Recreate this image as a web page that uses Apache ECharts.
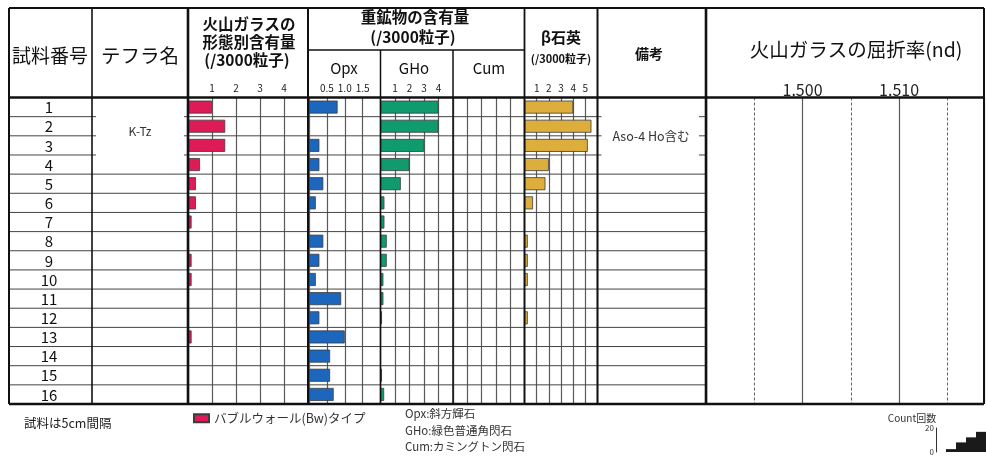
<!DOCTYPE html>
<html>
<head>
<meta charset="utf-8">
<script src="https://cdn.jsdelivr.net/npm/echarts@6/dist/echarts.min.js"></script>
<style>
  html, body { margin: 0; padding: 0; background: #fff; }
  #chart { width: 986px; height: 456px; }
</style>
</head>
<body>
<div id="chart"></div>
<script>
// Sample numbers (5 cm spacing), top to bottom
const samples = ['1','2','3','4','5','6','7','8','9','10','11','12','13','14','15','16'];

// Volcanic glass, bubble-wall type (/3000 grains)
const glassBw = [1.0, 1.55, 1.55, 0.5, 0.33, 0.33, 0.15, 0, 0.15, 0.15, 0, 0, 0.15, 0, 0, 0];
// Heavy minerals (/3000 grains)
const opx = [0.8, 0, 0.29, 0.29, 0.4, 0.19, 0, 0.4, 0.29, 0.19, 0.9, 0.29, 1.0, 0.59, 0.59, 0.69];
const gho = [4.0, 4.0, 3.0, 2.0, 1.4, 0.27, 0.27, 0.43, 0.43, 0.2, 0.2, 0.1, 0, 0, 0.1, 0.25];
const cum = [0, 0, 0, 0, 0, 0, 0, 0, 0, 0, 0, 0, 0, 0, 0, 0];
// Beta quartz (/3000 grains)
const betaQuartz = [4.0, 5.5, 5.2, 2.0, 1.72, 0.7, 0, 0.27, 0.27, 0.27, 0, 0.27, 0, 0, 0, 0];

// Tick labels printed above each panel
const glassTicks = ['1', '2', '3', '4'];
const opxTicks = ['0.5', '1.0', '1.5'];
const ghoTicks = ['1', '2', '3', '4'];
const betaTicks = ['1', '2', '3', '4', '5'];
const ndTicks = ['1.500', '1.510'];

// Small "Count" key in the lower right corner
const countBins = ['0', '1', '2', '3', '4'];
const countValues = [null, 2.4, 8, 12.2, 16.8];
const countTicks = ['0', '20'];

const FONT = '"Noto Sans CJK JP", "Noto Sans", sans-serif';
const TOP = 97.5, BOTTOM = 404;          // body of the table
const rowH = (BOTTOM - TOP) / samples.length;

const COLORS = { glass: '#DC1B57', opx: '#1C66BD', gho: '#0F9B6E', beta: '#DDAE3C' };

const chart = echarts.init(document.getElementById('chart'), null, { renderer: 'canvas' });

function grid(left, right) {
  return { left: left, top: TOP, width: right - left, height: BOTTOM - TOP, containLabel: false };
}

function valueAxis(gridIndex, max, interval, ticks, digits) {
  return {
    type: 'value', gridIndex: gridIndex, min: 0, max: max, interval: interval, position: 'top',
    axisLine: { show: false }, axisTick: { show: false },
    splitLine: { show: true, lineStyle: { color: '#5a5a5a', width: 1.2 } },
    axisLabel: {
      show: ticks.length > 0, fontSize: 10, color: '#222', margin: 4, fontFamily: FONT,
      showMinLabel: false, showMaxLabel: false,
      formatter: function (v) { const s = v.toFixed(digits); return ticks.indexOf(s) >= 0 ? s : ''; }
    }
  };
}

function rowAxis(gridIndex) {
  return {
    type: 'category', gridIndex: gridIndex, data: samples, inverse: true,
    axisLine: { show: false }, axisTick: { show: false }, axisLabel: { show: false },
    splitLine: { show: false }
  };
}

function nz(arr) { return arr.map(function (v) { return v > 0 ? v : '-'; }); }

function barSeries(name, idx, data, color) {
  return {
    name: name, type: 'bar', xAxisIndex: idx, yAxisIndex: idx, data: nz(data),
    barWidth: 13, silent: true, animation: false,
    itemStyle: { color: color, borderColor: '#3c3c3c', borderWidth: 0.8 }
  };
}

// ---- table frame -----------------------------------------------------------
const g = [];
function line(x1, y1, x2, y2, w, color) {
  g.push({ type: 'line', z: 100, silent: true,
    shape: { x1: x1, y1: y1, x2: x2, y2: y2 },
    style: { stroke: color || '#111', lineWidth: w } });
}
function text(x, y, str, size, opts) {
  opts = opts || {};
  g.push({ type: 'text', z: 101, silent: true, x: x, y: y,
    style: { text: str, fontSize: size, fontFamily: FONT, fill: opts.color || '#111',
      fontWeight: opts.weight || 'normal', align: opts.align || 'center', verticalAlign: 'middle' } });
}

// column boundaries
const X = { left: 9, num: 92, tephra: 188, glass: 308, opx: 380.5, gho: 453, cum: 524.5, beta: 597.5, note: 706, right: 984 };

// row separators (rows 1-4 are merged in the tephra and remarks columns)
for (let i = 1; i < samples.length; i++) {
  const y = TOP + i * rowH;
  line(X.left, y, X.num, y, 1, '#444');
  line(X.tephra, y, X.beta, y, 1, '#444');
  if (i > 3) {
    line(X.num, y, X.tephra, y, 1, '#444');
    line(X.beta, y, X.note, y, 1, '#444');
  } else {
    line(X.num, y, X.num + 4, y, 1, '#444');
    line(X.tephra - 4, y, X.tephra, y, 1, '#444');
    line(X.beta, y, X.beta + 4, y, 1, '#444');
    line(X.note - 7, y, X.note, y, 1, '#444');
  }
}

// vertical rules
line(X.left, 8, X.left, BOTTOM, 2);
line(X.num, 8, X.num, BOTTOM, 1.6);
line(X.tephra, 8, X.tephra, BOTTOM, 2.6);
line(X.glass, 8, X.glass, BOTTOM, 2);
line(X.opx, 50, X.opx, BOTTOM, 1.5);
line(X.gho, 50, X.gho, BOTTOM, 1.5);
line(X.cum, 8, X.cum, BOTTOM, 1.8);
line(X.beta, 8, X.beta, BOTTOM, 2);
line(X.note, 8, X.note, BOTTOM, 2.6);
line(X.right, 8, X.right, BOTTOM, 2);

// horizontal rules
line(X.left, 8, X.right, 8, 2);
line(X.glass, 50, X.cum, 50, 1.3);
line(X.left, TOP, X.right, TOP, 2.5);
line(X.left, BOTTOM, X.right, BOTTOM, 2.5);

// header texts
text(50, 56, '試料番号', 19);
text(140, 56, 'テフラ名', 19.5);
text(249, 24, '火山ガラスの', 15.5, { weight: 'bold' });
text(249, 42, '形態別含有量', 15.5, { weight: 'bold' });
text(247, 60, '(/3000粒子)', 15.5, { weight: 'bold' });
text(415, 17, '重鉱物の含有量', 15.5, { weight: 'bold' });
text(413, 37, '(/3000粒子)', 15.5, { weight: 'bold' });
text(344, 68, 'Opx', 15);
text(414, 68, 'GHo', 15);
text(489, 68, 'Cum', 15);
text(561, 37, 'β石英', 15, { weight: 'bold' });
text(561, 59, '(/3000粒子)', 11, { weight: 'bold' });
text(649, 54, '備考', 14, { weight: 'bold' });
text(856, 50, '火山ガラスの屈折率(nd)', 19.5);

// body texts
samples.forEach(function (s, i) { text(49, TOP + (i + 0.5) * rowH + 0.5, s, 15); });
text(140, 131, 'K-Tz', 12, { color: '#333' });
text(651, 136.5, 'Aso-4 Ho含む', 12.5, { color: '#333' });

// notes under the table
text(24, 423, '試料は5cm間隔', 12.5, { align: 'left', color: '#222' });
text(405, 414, 'Opx:斜方輝石', 11.5, { align: 'left', color: '#333' });
text(405, 431, 'GHo:緑色普通角閃石', 11.5, { align: 'left', color: '#333' });
text(405, 447, 'Cum:カミングトン閃石', 11.5, { align: 'left', color: '#333' });
text(912, 418, 'Count回数', 10, { color: '#333' });

// ---- chart option -----------------------------------------------------------
const ndMin = 1.49, ndMax = 1.5188;

const option = {
  animation: false,
  backgroundColor: '#fff',
  textStyle: { fontFamily: FONT },
  legend: {
    left: 188, top: 407, itemWidth: 15, itemHeight: 8, itemGap: 10,
    icon: 'rect', selectedMode: false,
    data: ['バブルウォール(Bw)タイプ'],
    textStyle: { fontSize: 12.5, color: '#333', fontFamily: FONT, padding: [0, 0, 0, 0] }
  },
  grid: [
    grid(X.tephra, X.glass),       // 0 glass
    grid(X.glass + 1, X.opx),      // 1 opx
    grid(X.opx, X.gho),            // 2 gho
    grid(X.gho, X.cum),            // 3 cum
    grid(X.cum, X.beta),           // 4 beta quartz
    grid(X.note, X.right),         // 5 refractive index
    { left: 936, top: 428, width: 50, height: 25 }  // 6 count key
  ],
  xAxis: [
    valueAxis(0, 5, 1, glassTicks, 0),
    valueAxis(1, 2, 0.5, opxTicks, 1),
    valueAxis(2, 5, 1, ghoTicks, 0),
    valueAxis(3, 5, 1, [], 0),
    valueAxis(4, 6, 1, betaTicks, 0),
    { // refractive index, 0.005 steps (dashed)
      type: 'value', gridIndex: 5, min: ndMin, max: ndMax, interval: 0.005, position: 'top',
      axisLine: { show: false }, axisTick: { show: false }, axisLabel: { show: false },
      splitLine: { show: true, lineStyle: { color: '#666', width: 1, type: [3, 2] } }
    },
    { // refractive index, 0.01 steps (solid, labelled)
      type: 'value', gridIndex: 5, min: ndMin, max: ndMax, interval: 0.01, position: 'top',
      axisLine: { show: false }, axisTick: { show: false },
      splitLine: { show: true, lineStyle: { color: '#5a5a5a', width: 1.2 } },
      axisLabel: {
        fontSize: 16, color: '#222', margin: 0, fontFamily: FONT,
        showMinLabel: false, showMaxLabel: false,
        formatter: function (v) { const s = v.toFixed(3); return ndTicks.indexOf(s) >= 0 ? s : ''; }
      }
    },
    { type: 'category', gridIndex: 6, data: countBins,
      axisLine: { show: false }, axisTick: { show: false }, axisLabel: { show: false } }
  ],
  yAxis: [
    rowAxis(0), rowAxis(1), rowAxis(2), rowAxis(3), rowAxis(4), rowAxis(5),
    { type: 'value', gridIndex: 6, min: 0, max: 20, interval: 20,
      axisLine: { show: true, lineStyle: { color: '#333', width: 1 } },
      axisTick: { show: false }, splitLine: { show: false },
      axisLabel: { fontSize: 8, color: '#333', margin: 2,
        formatter: function (v) { const s = String(v); return countTicks.indexOf(s) >= 0 ? s : ''; } } }
  ],
  series: [
    barSeries('バブルウォール(Bw)タイプ', 0, glassBw, COLORS.glass),
    barSeries('Opx', 1, opx, COLORS.opx),
    barSeries('GHo', 2, gho, COLORS.gho),
    barSeries('Cum', 3, cum, COLORS.gho),
    barSeries('β石英', 4, betaQuartz, COLORS.beta),
    { name: 'Count', type: 'bar', xAxisIndex: 7, yAxisIndex: 6, data: countValues,
      barCategoryGap: 0, silent: true, itemStyle: { color: '#1a1a1a' } }
  ],
  graphic: { elements: g }
};

chart.setOption(option);
</script>
</body>
</html>
